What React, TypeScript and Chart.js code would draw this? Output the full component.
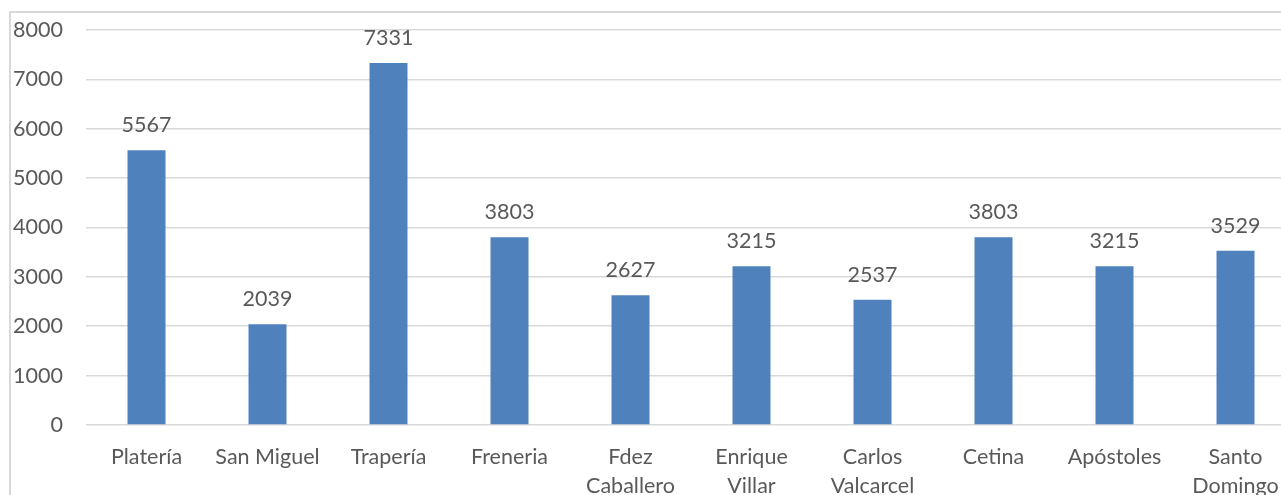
import React, { useEffect, useRef } from "react";
import { Chart, registerables } from "chart.js";

Chart.register(...registerables);

const categories: (string | string[])[] = [
  "Platería",
  "San Miguel",
  "Trapería",
  "Freneria",
  ["Fdez", "Caballero"],
  ["Enrique", "Villar"],
  ["Carlos", "Valcarcel"],
  "Cetina",
  "Apóstoles",
  ["Santo", "Domingo"],
];
const values: number[] = [5567, 2039, 7331, 3803, 2627, 3215, 2537, 3803, 3215, 3529];
const yTicks = { min: 0, max: 8000, step: 1000 };

const FONT = "Lato, 'Open Sans', sans-serif";
const TEXT = "#595959";
const SIZE = 21.5;

const dataLabels = {
  id: "dataLabels",
  afterDatasetsDraw(chart: any) {
    const ctx = chart.ctx;
    const meta = chart.getDatasetMeta(0);
    ctx.save();
    ctx.font = `${SIZE}px ${FONT}`;
    ctx.fillStyle = TEXT;
    ctx.textAlign = "center";
    ctx.textBaseline = "middle";
    meta.data.forEach((bar: any, i: number) => {
      ctx.fillText(String(values[i]), bar.x, bar.y - 25);
    });
    ctx.restore();
  },
};

export default function App() {
  const ref = useRef<HTMLCanvasElement>(null);
  useEffect(() => {
    if (!ref.current) return;
    const chart = new Chart(ref.current, {
      type: "bar",
      data: {
        labels: categories,
        datasets: [
          {
            data: values,
            backgroundColor: "#4f81bd",
            borderWidth: 0,
            barPercentage: 0.314,
            categoryPercentage: 1,
          },
        ],
      },
      options: {
        responsive: false,
        animation: false,
        devicePixelRatio: 1,
        layout: { padding: { top: 30, left: 0, right: 4, bottom: 0 } },
        plugins: { legend: { display: false }, tooltip: { enabled: false } },
        scales: {
          x: {
            grid: { display: false },
            border: { display: false },
            ticks: {
              color: TEXT,
              font: { family: FONT, size: SIZE, lineHeight: 1.35 },
              padding: 9.5,
              maxRotation: 0,
              autoSkip: false,
            },
            afterFit: (s: any) => {
              s.height = 70;
              s.paddingLeft = 0;
              s.paddingRight = 0;
            },
          },
          y: {
            min: yTicks.min,
            max: yTicks.max,
            grid: { color: "#d9d9d9", lineWidth: 1.6, drawTicks: false },
            border: { display: false },
            ticks: {
              stepSize: yTicks.step,
              color: TEXT,
              font: { family: FONT, size: SIZE },
              padding: 23,
              callback: (v: any) => String(v),
            },
            afterFit: (s: any) => {
              s.width = 86;
              s.paddingTop = 0;
              s.paddingBottom = 0;
            },
          },
        },
      },
      plugins: [dataLabels],
    });
    return () => chart.destroy();
  }, []);
  return (
    <div
      style={{
        position: "fixed",
        left: 0,
        top: 0,
        width: 1281,
        height: 495,
        overflow: "hidden",
        background: "#fff",
      }}
    >
      <div
        style={{
          position: "absolute",
          left: 9,
          top: 11,
          width: 2000,
          height: 1000,
          borderLeft: "2px solid #d9d9d9",
          borderTop: "2px solid #d9d9d9",
        }}
      />
      <canvas
        ref={ref}
        width={1300}
        height={495}
        style={{ position: "absolute", left: 0, top: 0, display: "block" }}
      />
    </div>
  );
}
